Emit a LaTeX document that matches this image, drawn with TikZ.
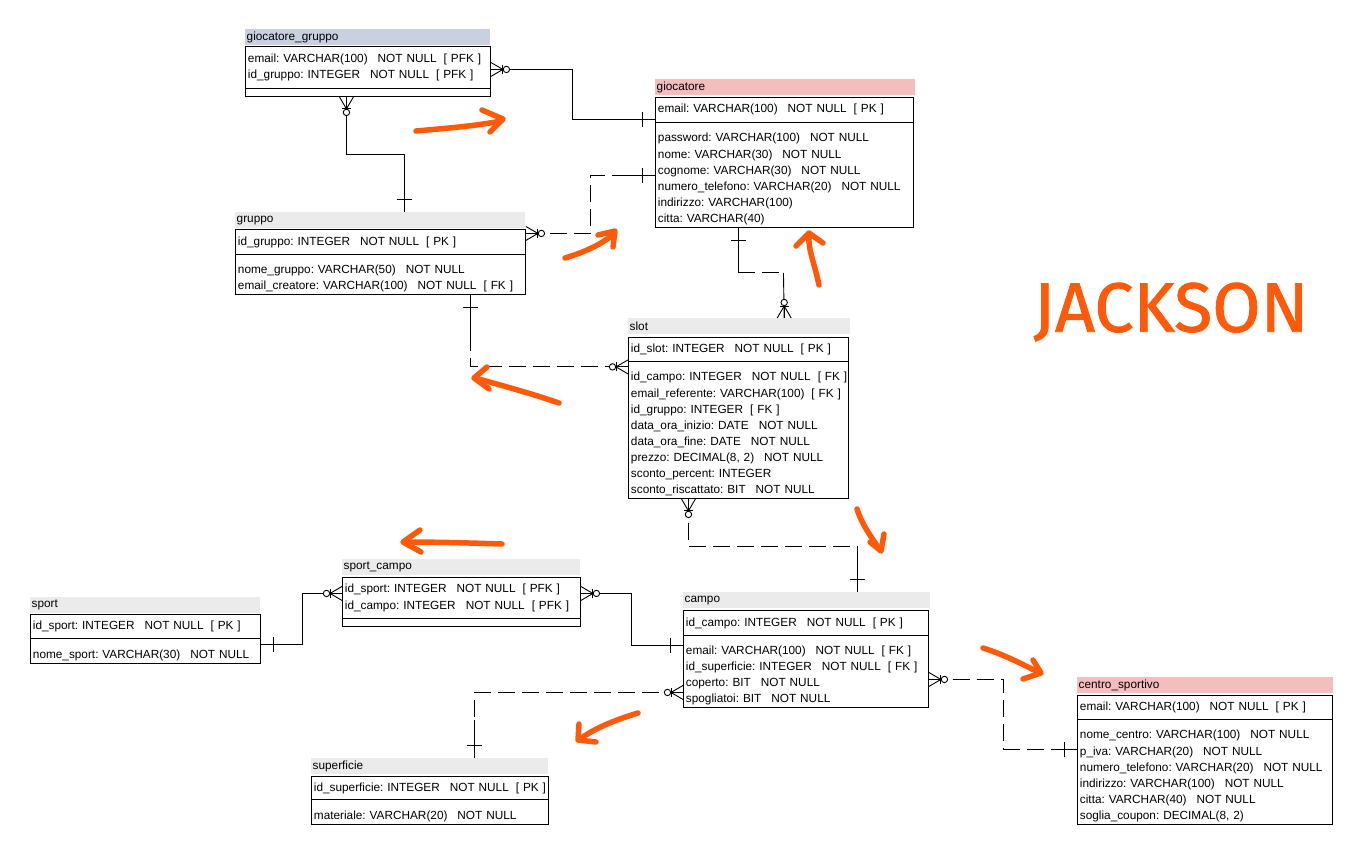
\documentclass[tikz,border=0pt]{standalone}
\usepackage{fontspec}
\setmainfont{Liberation Sans}
\newfontfamily\handfont[FakeBold=1.2]{Fira Sans}
\usetikzlibrary{calc}

\definecolor{hdrgray}{HTML}{EBEBEB}
\definecolor{hdrblue}{HTML}{C9D1E1}
\definecolor{hdrpink}{HTML}{F4BEBE}
\definecolor{marker}{HTML}{FF5A0A}

% gaps between column name/type, NOT NULL and key flag
\newcommand\tsep{\hspace*{10pt}}
\newcommand\ksep{\hspace*{7pt}}
% extra room above the first attribute line
\newcommand\topgap{\rule{0pt}{17pt}}

\tikzset{
  x=1pt, y=-1pt,
  every node/.style={font=\fontsize{11.8}{16.1}\selectfont},
  hdr/.style={anchor=north west, inner xsep=1.5pt, inner ysep=0pt, minimum height=16pt, align=left},
  sect/.style={draw, line width=0.9pt, anchor=north west, inner xsep=2.5pt, inner ysep=0pt, align=left},
  blank/.style={draw, line width=0.9pt, anchor=north west, inner sep=0pt},
  rel/.style={line width=0.9pt},
  dsh/.style={rel, dash pattern=on 17pt off 7pt},
  zmany/.pic={
    \draw[rel] (0,-7) -- (12,0) -- (0,7);
    \draw[rel] (0,0) -- (12,0);
    \draw[rel] (12,-4.5) -- (12,4.5);
    \draw[rel, fill=white] (15.5,0) circle (3.2pt);
  },
  onebar/.pic={\draw[rel] (13,-7.5) -- (13,7.5);},
  orangepen/.style={draw=marker, line width=5.5pt, line cap=round, line join=round},
}

\begin{document}
\begin{tikzpicture}
\fill[white] (0,0) rectangle (1366,856);
\useasboundingbox (0,0) rectangle (1366,856);

% ---------------- tables ----------------
% giocatore_gruppo
\node[hdr, fill=hdrblue, text width=242pt] (ggh) at (245,29) {giocatore\_gruppo};
\node[sect, text width=240pt, minimum height=42pt] (ggk) at (245,46)
  {email:~VARCHAR(100)\tsep NOT~NULL\ksep[~PFK~]\\id\_gruppo:~INTEGER\tsep NOT~NULL\ksep[~PFK~]};
\node[blank, minimum width=245pt, minimum height=8pt] (gga) at (245,88) {};

% giocatore
\node[hdr, fill=hdrpink, text width=257pt] (gih) at (655,79) {giocatore};
\node[sect, text width=253pt, minimum height=25pt] (gik) at (655,97)
  {email:~VARCHAR(100)\tsep NOT~NULL\ksep[~PK~]};
\node[sect, text width=253pt, minimum height=105pt] (gia) at (655,122)
  {\topgap password:~VARCHAR(100)\tsep NOT~NULL\\
   nome:~VARCHAR(30)\tsep NOT~NULL\\
   cognome:~VARCHAR(30)\tsep NOT~NULL\\
   numero\_telefono:~VARCHAR(20)\tsep NOT~NULL\\
   indirizzo:~VARCHAR(100)\\
   citta:~VARCHAR(40)};

% gruppo
\node[hdr, fill=hdrgray, text width=287pt] (grh) at (235,212) {gruppo};
\node[sect, text width=285pt, minimum height=25pt] (grk) at (235,229)
  {id\_gruppo:~INTEGER\tsep NOT~NULL\ksep[~PK~]};
\node[sect, text width=285pt, minimum height=40pt] (gra) at (235,254)
  {\topgap nome\_gruppo:~VARCHAR(50)\tsep NOT~NULL\\
   email\_creatore:~VARCHAR(100)\tsep NOT~NULL\ksep[~FK~]};

% slot
\node[hdr, fill=hdrgray, text width=219pt] (slh) at (628,318) {slot};
\node[sect, text width=215pt, minimum height=24pt] (slk) at (628,337)
  {id\_slot:~INTEGER\tsep NOT~NULL\ksep[~PK~]};
\node[sect, text width=215pt, minimum height=137pt] (sla) at (628,361)
  {\topgap id\_campo:~INTEGER\tsep NOT~NULL\ksep[~FK~]\\
   email\_referente:~VARCHAR(100)\ksep[~FK~]\\
   id\_gruppo:~INTEGER\ksep[~FK~]\\
   data\_ora\_inizio:~DATE\tsep NOT~NULL\\
   data\_ora\_fine:~DATE\tsep NOT~NULL\\
   prezzo:~DECIMAL(8,~2)\tsep NOT~NULL\\
   sconto\_percent:~INTEGER\\
   sconto\_riscattato:~BIT\tsep NOT~NULL};

% sport
\node[hdr, fill=hdrgray, text width=227pt] (sph) at (30,597) {sport};
\node[sect, text width=225pt, minimum height=24pt] (spk) at (30,614)
  {id\_sport:~INTEGER\tsep NOT~NULL\ksep[~PK~]};
\node[sect, text width=225pt, minimum height=25pt] (spa) at (30,638)
  {\topgap nome\_sport:~VARCHAR(30)\tsep NOT~NULL};

% sport_campo
\node[hdr, fill=hdrgray, text width=235pt] (sch) at (342,559) {sport\_campo};
\node[sect, text width=233pt, minimum height=41pt] (sck) at (342,577)
  {id\_sport:~INTEGER\tsep NOT~NULL\ksep[~PFK~]\\id\_campo:~INTEGER\tsep NOT~NULL\ksep[~PFK~]};
\node[blank, minimum width=238pt, minimum height=8pt] (sca) at (342,618) {};

% campo
\node[hdr, fill=hdrgray, text width=244pt] (cah) at (683,592) {campo};
\node[sect, text width=240pt, minimum height=25pt] (cak) at (683,610)
  {id\_campo:~INTEGER\tsep NOT~NULL\ksep[~PK~]};
\node[sect, text width=240pt, minimum height=72pt] (caa) at (683,635)
  {\topgap email:~VARCHAR(100)\tsep NOT~NULL\ksep[~FK~]\\
   id\_superficie:~INTEGER\tsep NOT~NULL\ksep[~FK~]\\
   coperto:~BIT\tsep NOT~NULL\\
   spogliatoi:~BIT\tsep NOT~NULL};

% superficie
\node[hdr, fill=hdrgray, text width=234pt] (suh) at (311,758) {superficie};
\node[sect, text width=232pt, minimum height=23pt] (suk) at (311,776)
  {id\_superficie:~INTEGER\tsep NOT~NULL\ksep[~PK~]};
\node[sect, text width=232pt, minimum height=25pt] (sua) at (311,799)
  {\topgap materiale:~VARCHAR(20)\tsep NOT~NULL};

% centro_sportivo
\node[hdr, fill=hdrpink, text width=253pt] (csh) at (1077,677) {centro\_sportivo};
\node[sect, text width=250pt, minimum height=24pt] (csk) at (1077,695)
  {email:~VARCHAR(100)\tsep NOT~NULL\ksep[~PK~]};
\node[sect, text width=250pt, minimum height=105pt] (csa) at (1077,719)
  {\topgap nome\_centro:~VARCHAR(100)\tsep NOT~NULL\\
   p\_iva:~VARCHAR(20)\tsep NOT~NULL\\
   numero\_telefono:~VARCHAR(20)\tsep NOT~NULL\\
   indirizzo:~VARCHAR(100)\tsep NOT~NULL\\
   citta:~VARCHAR(40)\tsep NOT~NULL\\
   soglia\_coupon:~DECIMAL(8,~2)};

% ---------------- relationships ----------------
% giocatore_gruppo -> giocatore
\draw[rel] ([yshift=-2pt]ggk.east) coordinate (r1a) -- ++(82,0) |- ([yshift=-9.5pt]gik.west) coordinate (r1b);
\pic at (r1a) {zmany};
\pic[rotate=180] at (r1b) {onebar};

% giocatore_gruppo -> gruppo
\draw[rel] ([xshift=-21.5pt]gga.south) coordinate (r2a) -- ++(0,58) -| ([xshift=24pt]grh.north) coordinate (r2b);
\pic[rotate=-90] at (r2a) {zmany};
\pic[rotate=90] at (r2b) {onebar};

% gruppo (email_creatore) -> giocatore
\draw[dsh] ([yshift=8.5pt]grk.east) coordinate (r3a) -- ++(65,0) |- ([xshift=-42pt,yshift=-0.5pt]gia.west) coordinate (r3m);
\draw[rel] (r3m) -- ([yshift=-0.5pt]gia.west) coordinate (r3b);
\pic at (r3a) {zmany};
\pic[rotate=180] at (r3b) {onebar};

% gruppo -> slot
\draw[rel] ([xshift=90pt]gra.south) coordinate (r4a) -- ++(0,39) coordinate (r4m);
\draw[dsh] (r4m) |- ([yshift=-5pt]slk.south west) coordinate (r4b);
\pic[rotate=-90] at (r4a) {onebar};
\pic[rotate=180] at (r4b) {zmany};

% giocatore -> slot
\draw[rel] ([xshift=-46pt]gia.south) coordinate (r5a) -- ++(0,45) coordinate (r5m);
\draw[dsh] (r5m) -- ++(45,0) coordinate (r5n);
\draw[rel] (r5n) -- ([xshift=45pt]slh.north) coordinate (r5b);
\pic[rotate=-90] at (r5a) {onebar};
\pic[rotate=90] at (r5b) {zmany};

% slot -> campo
\draw[dsh] ([xshift=-50pt]sla.south) coordinate (r6a) |- ([xshift=50.5pt,yshift=46pt]cah.north) coordinate (r6m);
\draw[rel] (r6m) -- ([xshift=50.5pt]cah.north) coordinate (r6b);
\pic[rotate=-90] at (r6a) {zmany};
\pic[rotate=90] at (r6b) {onebar};

% sport -> sport_campo
\draw[rel] ([yshift=6.5pt]spa.east) coordinate (r7a) -- ++(42,0) |- ([yshift=4.5pt]sck.west) coordinate (r7b);
\pic at (r7a) {onebar};
\pic[rotate=180] at (r7b) {zmany};

% sport_campo -> campo
\draw[rel] ([yshift=4.5pt]sck.east) coordinate (r8a) -- ++(51,0) |- ([yshift=26pt]caa.west) coordinate (r8b);
\pic at (r8a) {zmany};
\pic[rotate=180] at (r8b) {onebar};

% campo -> superficie
\draw[dsh] ([yshift=-21pt]caa.west) coordinate (r9a) -| ([xshift=44.5pt,yshift=38pt]suh.north) coordinate (r9m);
\draw[rel] (r9m) -- ([xshift=44.5pt]suh.north) coordinate (r9b);
\pic[rotate=180] at (r9a) {zmany};
\pic[rotate=90] at (r9b) {onebar};

% campo -> centro_sportivo
\draw[dsh] ([yshift=-8pt]caa.east) coordinate (r10a) -- ++(75,0) |- ([xshift=-22pt,yshift=22.5pt]csa.west) coordinate (r10m);
\draw[rel] (r10m) -- ([yshift=22.5pt]csa.west) coordinate (r10b);
\pic at (r10a) {zmany};
\pic[rotate=180] at (r10b) {onebar};

% ---------------- hand-drawn marker arrows ----------------
\draw[orangepen] (416,131) .. controls (450,128) and (475,126) .. (501,121);
\draw[orangepen] (482,110) -- (503,119) -- (490,132);

\draw[orangepen] (565,258) .. controls (585,252) and (600,245) .. (614,234);
\draw[orangepen] (598,235) -- (615,231) -- (613,247);

\draw[orangepen] (819,285) .. controls (815,265) and (808,250) .. (809,236);
\draw[orangepen] (796,246) -- (809,233) -- (823,243);

\draw[orangepen] (559,403) .. controls (530,393) and (500,385) .. (475,378);
\draw[orangepen] (487,367) -- (474,378) -- (489,389);

\draw[orangepen] (502,544) .. controls (470,543) and (440,542) .. (404,542);
\draw[orangepen] (420,530) -- (403,542) -- (421,552);

\draw[orangepen] (857,509) .. controls (862,525) and (872,538) .. (880,550);
\draw[orangepen] (870,542) -- (881,551) -- (884,534);

\draw[orangepen] (983,648) .. controls (1005,655) and (1022,664) .. (1040,673);
\draw[orangepen] (1033,660) -- (1041,673) -- (1023,679);

\draw[orangepen] (638,713) .. controls (615,720) and (595,728) .. (580,739);
\draw[orangepen] (579,724) -- (578,740) -- (596,742);

\node[text=marker, font=\handfont\fontsize{70}{70}\selectfont] (sig) at (1171,312) {JACKSON};
\end{tikzpicture}
\end{document}
